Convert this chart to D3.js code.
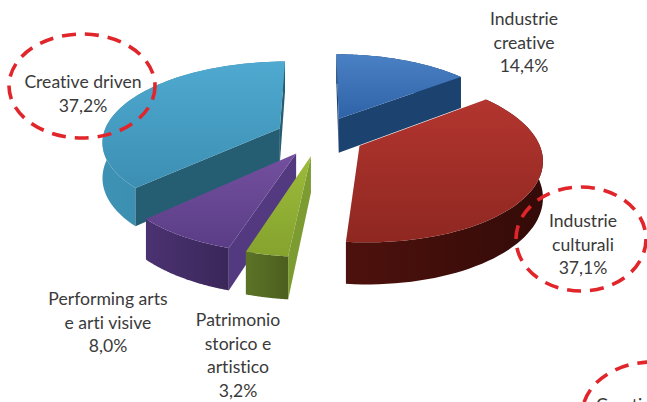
<!DOCTYPE html>
<html>
<head>
<meta charset="utf-8">
<script src="https://cdn.jsdelivr.net/npm/d3@7/dist/d3.min.js"></script>
<style>
html,body{margin:0;padding:0;background:#fff;overflow:hidden}
svg{display:block}
text{font-family:Lato,"Open Sans",sans-serif;font-size:17.6px;fill:#3a3a3a;text-anchor:middle;font-variant-ligatures:none}
</style>
</head>
<body>
<svg id="chart" width="647" height="402"></svg>
<script>
// Sector shares, clockwise from twelve o'clock
const categories = ["Industrie creative", "Industrie culturali", "Patrimonio storico e artistico", "Performing arts e arti visive", "Creative driven"];
const shares = [14.4, 37.1, 3.2, 8.0, 37.2];
const shareLabels = ["14,4%", "37,1%", "3,2%", "8,0%", "37,2%"];
const labelLines = [["Industrie", "creative"], ["Industrie", "culturali"], ["Patrimonio", "storico e", "artistico"], ["Performing arts", "e arti visive"], ["Creative driven"]];

// Colours per sector: top (light, dark), outer wall (light, dark), cut face
const topLight = ["#4a80c4", "#b3352f", "#9cbb3a", "#74509f", "#4fa9d0"];
const topDark = ["#2f63a8", "#8f2721", "#85a32e", "#5a3d86", "#3c8fb3"];
const wallLight = ["#1f4674", "#4e110d", "#5c7327", "#4b3272", "#3e93b5"];
const wallDark = ["#173a63", "#330b08", "#4c5f1e", "#3a2759", "#2f7c9c"];
const cutFace = ["#1c4270", "#3a0d0a", "#7c9b31", "#53397f", "#255d72"];

// Paint order, far sectors first
const paintOrder = [0, 4, 1, 3, 2];

// Label anchors, in the same order as the sectors
const labelX = [524, 583, 238, 108, 83];
const labelY = [25, 227, 326, 305, 88];
const lineStep = 23.5;

// Scene parameters of the tilted, exploded pie
const cx = 320, cy = 136;
const radiusX = 177, radiusY = 79, tilt = 0.15, depth = 35, explode = 0.25;

const svg = d3.select("#chart");
const defs = svg.append("defs");

const arcs = d3.pie().sort(null).value(d => d).startAngle(0).endAngle(2 * Math.PI)(shares);

const xScale = d3.scaleLinear().domain([0, 1]).range([0, radiusX]);
const yScale = d3.scaleLinear().domain([0, 1]).range([0, radiusY]);

// Perspective projection of a ground-plane point; z=1 is the underside of the disc
function project(x, y, z) {
  const w = 1 - tilt * y;
  return [cx + xScale(x) / w, cy + (yScale(y) + depth * z) / w];
}
const onCircle = (a, r) => [r * Math.sin(a), -r * Math.cos(a)];
const line = d3.line();

function gradient(id, c1, c2, x2, y2) {
  const g = defs.append("linearGradient").attr("id", id)
    .attr("x1", 0).attr("y1", 0).attr("x2", x2).attr("y2", y2);
  g.append("stop").attr("offset", 0).attr("stop-color", c1);
  g.append("stop").attr("offset", 1).attr("stop-color", c2);
}

paintOrder.forEach(i => {
  const d = arcs[i];
  gradient("top" + i, topLight[i], topDark[i], 0, 1);
  gradient("wall" + i, wallLight[i], wallDark[i], 1, 0);

  const mid = (d.startAngle + d.endAngle) / 2;
  const [ox, oy] = onCircle(mid, explode);
  const angles = d3.range(0, 61).map(k => d.startAngle + (d.endAngle - d.startAngle) * k / 60);
  const rim = angles.map(a => { const [x, y] = onCircle(a, 1); return [x + ox, y + oy]; });

  const g = svg.append("g").attr("class", "sector");
  const topRim = rim.map(p => project(p[0], p[1], 0));
  const lowRim = rim.map(p => project(p[0], p[1], 1));
  const apexTop = project(ox, oy, 0);
  const apexLow = project(ox, oy, 1);

  // Outer wall sits behind the cut faces of narrow sectors, top surface goes last
  g.append("path").attr("d", line(topRim.concat(lowRim.slice().reverse())) + "Z").attr("fill", `url(#wall${i})`);

  // Cut faces: keep the ones turned towards the viewer
  const faces = [
    [apexTop, topRim[0], lowRim[0], apexLow],
    [topRim[60], apexTop, apexLow, lowRim[60]]
  ];
  faces.forEach(f => {
    if (d3.polygonArea(f) > 0) {
      g.append("path").attr("d", line(f) + "Z").attr("fill", cutFace[i]);
    }
  });

  g.append("path").attr("d", line([apexTop].concat(topRim)) + "Z").attr("fill", `url(#top${i})`);
});

// Dashed callout rings
const rings = [[82, 86, 73, 52], [581, 239, 65, 52], [652, 415, 70, 53]];
svg.selectAll("ellipse").data(rings).join("ellipse")
  .attr("cx", d => d[0]).attr("cy", d => d[1]).attr("rx", d => d[2]).attr("ry", d => d[3])
  .attr("fill", "none").attr("stroke", "#e0252b").attr("stroke-width", 3.6)
  .attr("stroke-dasharray", "14 9");

// Sector labels
categories.forEach((c, i) => {
  const lines = labelLines[i].concat(shareLabels[i]);
  const t = svg.append("text").attr("x", labelX[i]).attr("y", labelY[i]);
  lines.forEach((l, k) => t.append("tspan").attr("x", labelX[i]).attr("y", labelY[i] + k * lineStep).text(l));
});

// Callout running off the lower edge of the frame
svg.append("text").attr("x", 596).attr("y", 411).style("text-anchor", "start").text("Creative driven");
</script>
</body>
</html>
